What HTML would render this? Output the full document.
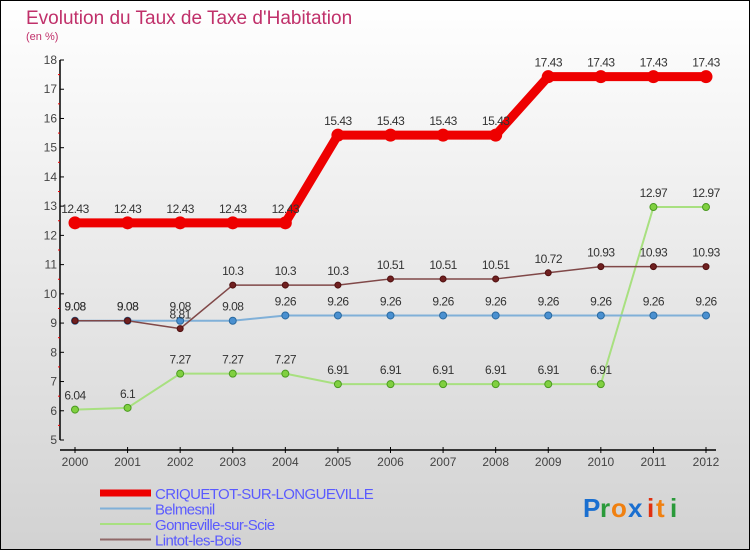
<!DOCTYPE html>
<html><head><meta charset="utf-8"><style>
body{margin:0;width:750px;height:550px;overflow:hidden}
svg{display:block;font-family:"Liberation Sans",sans-serif}
</style></head><body>
<svg id="c" width="750" height="550">
<defs><linearGradient id="bg" x1="0" y1="0" x2="0" y2="1"><stop offset="0" stop-color="#ffffff"/><stop offset="1" stop-color="#d2d2d2"/></linearGradient></defs>
<rect x="0.5" y="0.5" width="749" height="549" fill="url(#bg)" stroke="#000"/>
<text x="26" y="24" font-size="19" fill="#c0306a">Evolution du Taux de Taxe d'Habitation</text>
<text x="26" y="40" font-size="11" fill="#c0306a">(en %)</text>
<g id="axes"></g><g id="series"></g><g id="legend"></g>
<g font-size="26" font-family="Liberation Sans,sans-serif" font-weight="bold">
<text x="583" y="517" fill="#1a6fd0">P</text><text x="600" y="517" fill="#2a9a3a">r</text><text x="611" y="517" fill="#f08010">o</text><text x="628" y="517" fill="#1a6fd0">x</text><text x="647" y="517" fill="#e03010">i</text><text x="656" y="517" fill="#f08010">t</text><text x="670" y="517" fill="#2a9a3a">i</text>
</g>
</svg>
<script>
const years=[2000,2001,2002,2003,2004,2005,2006,2007,2008,2009,2010,2011,2012];
const criquetot=[12.43,12.43,12.43,12.43,12.43,15.43,15.43,15.43,15.43,17.43,17.43,17.43,17.43];
const belmesnil=[9.08,9.08,9.08,9.08,9.26,9.26,9.26,9.26,9.26,9.26,9.26,9.26,9.26];
const gonneville=[6.04,6.1,7.27,7.27,7.27,6.91,6.91,6.91,6.91,6.91,6.91,12.97,12.97];
const lintot=[9.08,9.08,8.81,10.3,10.3,10.3,10.51,10.51,10.51,10.72,10.93,10.93,10.93];
const yTicks=[5,6,7,8,9,10,11,12,13,14,15,16,17,18];
const seriesNames=["CRIQUETOT-SUR-LONGUEVILLE","Belmesnil","Gonneville-sur-Scie","Lintot-les-Bois"];
const NS="http://www.w3.org/2000/svg";
const X=i=>75+i*(706-75)/(years.length-1);
const Y=v=>440-(v-5)*(380/13);
function mk(t,a,p){const e=document.createElementNS(NS,t);for(const k in a)e.setAttribute(k,a[k]);p.appendChild(e);return e;}
const ax=document.getElementById('axes');
let e=mk('line',{x1:60,y1:60,x2:60,y2:440,stroke:'#000','stroke-width':1.5},ax);


e=mk('line',{x1:60,y1:450,x2:716,y2:450,stroke:'#000','stroke-width':1.5},ax);


yTicks.forEach(v=>{mk('line',{x1:60,y1:Y(v),x2:64,y2:Y(v),stroke:'#000'},ax);
 if(v<18)mk('line',{x1:58,y1:Y(v+0.5),x2:60,y2:Y(v+0.5),stroke:'#e00'},ax);
 const t=mk('text',{x:57,y:Y(v)+4,'text-anchor':'end','font-size':12,fill:'#444'},ax);t.textContent=v;
 
 });
years.forEach((y,i)=>{mk('line',{x1:X(i),y1:447,x2:X(i),y2:453,stroke:'#000'},ax);
 const t=mk('text',{x:X(i),y:466,'text-anchor':'middle','font-size':12,fill:'#444'},ax);t.textContent=y;
 
 });
const sg=document.getElementById('series');
function draw(data,name,color,w,dot,dotStroke,r){
 const g=mk('g',{},sg);
 
 
 mk('polyline',{points:data.map((v,i)=>X(i)+','+Y(v)).join(' '),fill:'none',stroke:color,'stroke-width':w,'stroke-linejoin':'round','stroke-linecap':'round'},g);
 data.forEach((v,i)=>{const c=mk('circle',{cx:X(i),cy:Y(v),r:r,fill:dot,stroke:dotStroke},g);
  
  
  const t=mk('text',{x:X(i),y:Y(v)-10,'text-anchor':'middle','font-size':12,fill:'#333','letter-spacing':'-0.5'},g);t.textContent=v;});
}
draw(gonneville,'series-gonneville','#a8e080',2,'#80d040','#4a9a20',3.5);
draw(belmesnil,'series-belmesnil','#80b0d8',2,'#4a90d0','#2a6aa0',3.5);
draw(lintot,'series-lintot','#804848',1.5,'#702020','#501010',3);
draw(criquetot,'series-criquetot','#ee0000',9,'#ee0000','#ee0000',6);
const lg=document.getElementById('legend');
const lc=['#ee0000','#80b0d8','#a8e080','#906868'],lw=[7,2,2,2];
seriesNames.forEach((n,i)=>{const y=493+i*15.5;
 mk('line',{x1:100,y1:y,x2:151,y2:y,stroke:lc[i],'stroke-width':lw[i]},lg);
 const t=mk('text',{x:155,y:y+6,'font-size':15,fill:'#5a5aff','letter-spacing':'-0.6'},lg);t.textContent=n;
 
 });
</script>
</body></html>
